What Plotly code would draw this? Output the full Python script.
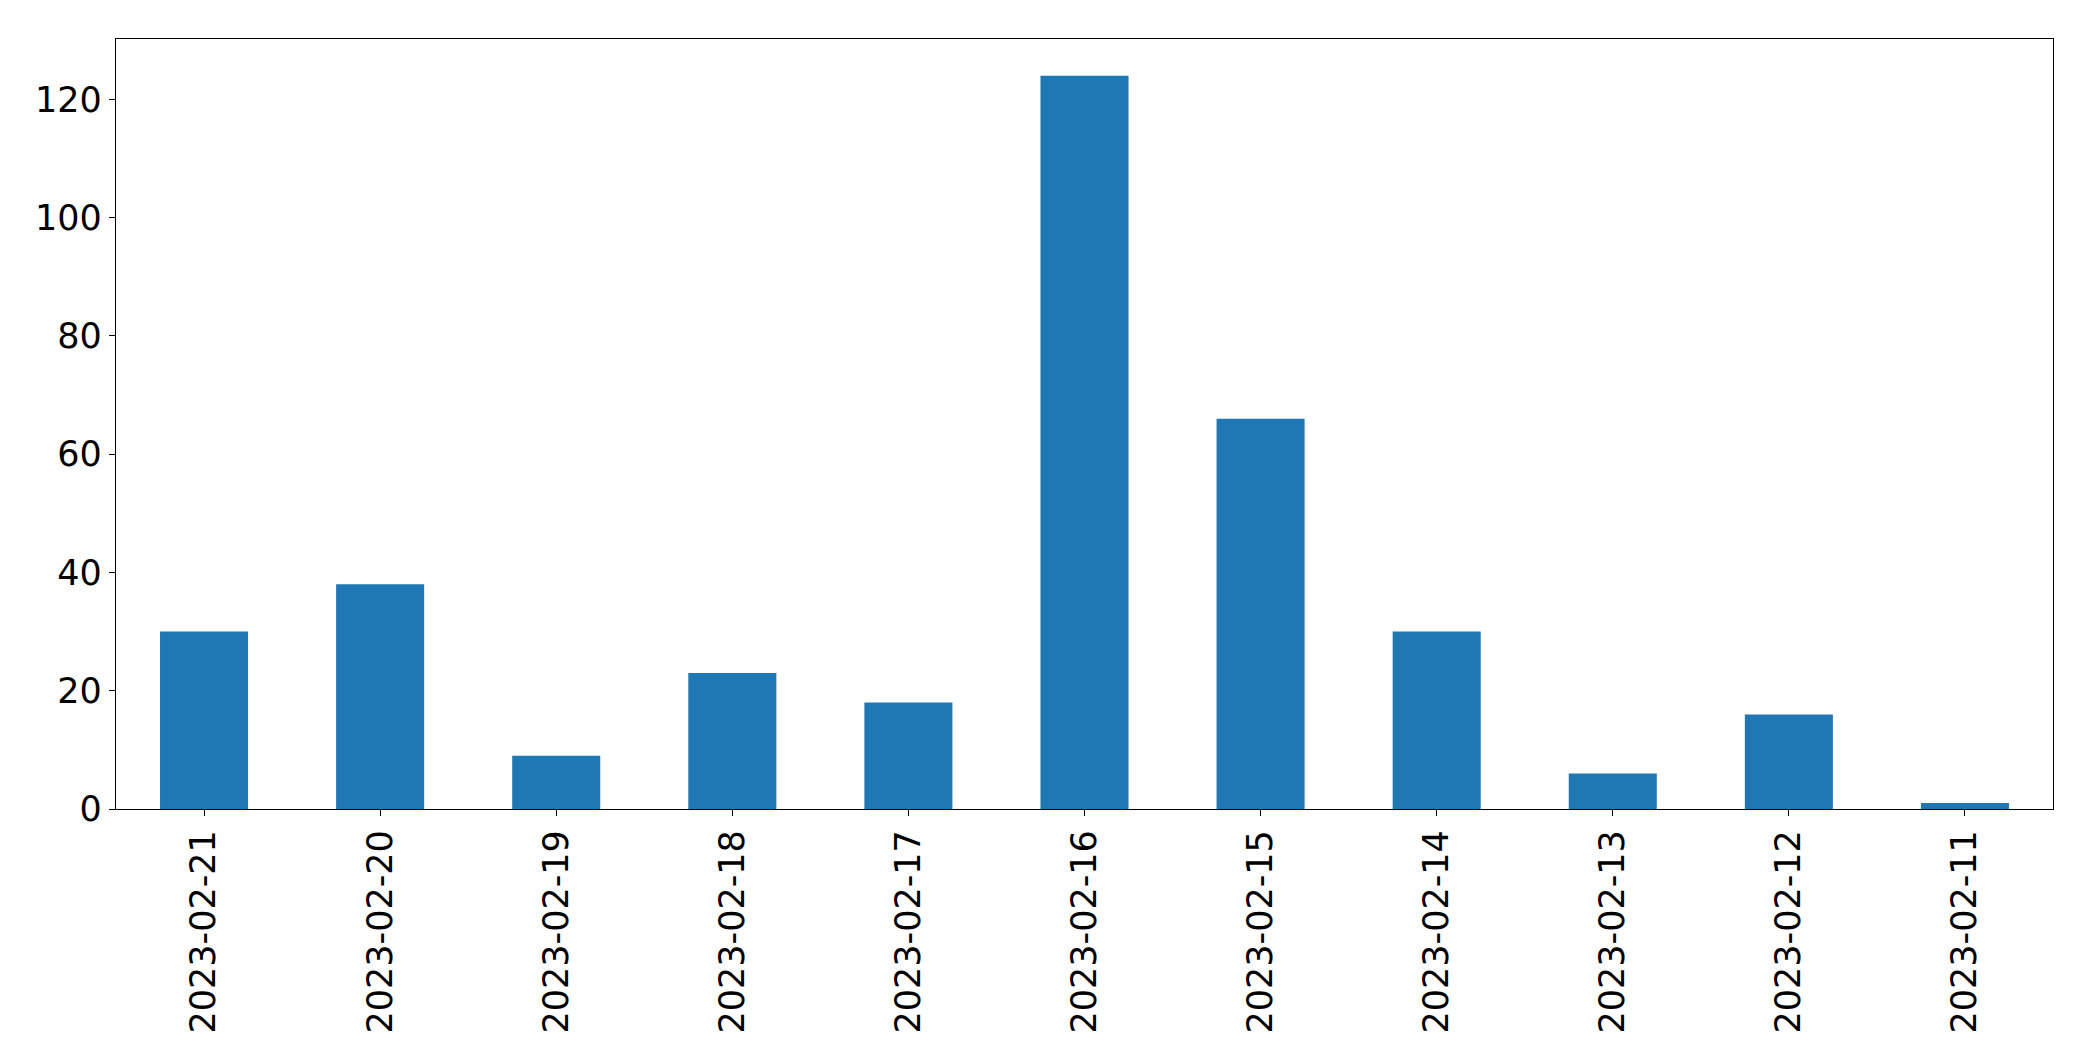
import plotly.graph_objects as go

dates = ["2023-02-21", "2023-02-20", "2023-02-19", "2023-02-18", "2023-02-17",
         "2023-02-16", "2023-02-15", "2023-02-14", "2023-02-13", "2023-02-12", "2023-02-11"]
counts = [30, 38, 9, 23, 18, 124, 66, 30, 6, 16, 1]

fig = go.Figure(go.Bar(x=dates, y=counts, marker_color="#1f77b4", marker_line_width=0, width=0.5))

axis_common = dict(showline=True, linecolor="black", linewidth=1.3, mirror=True,
                   ticks="outside", ticklen=6, tickwidth=1.3, tickcolor="black",
                   showgrid=False, zeroline=False,
                   tickfont=dict(family="DejaVu Sans", size=35, color="black"))

fig.update_xaxes(type="category", range=[-0.5, 10.5], tickangle=-90, **axis_common)
fig.update_yaxes(range=[0, 130.2], tickvals=[0, 20, 40, 60, 80, 100, 120], **axis_common)

fig.update_layout(width=2093, height=1061, plot_bgcolor="white", paper_bgcolor="white",
                  margin=dict(l=108, r=48, t=31, b=260), showlegend=False)

fig.write_html("out.html")
